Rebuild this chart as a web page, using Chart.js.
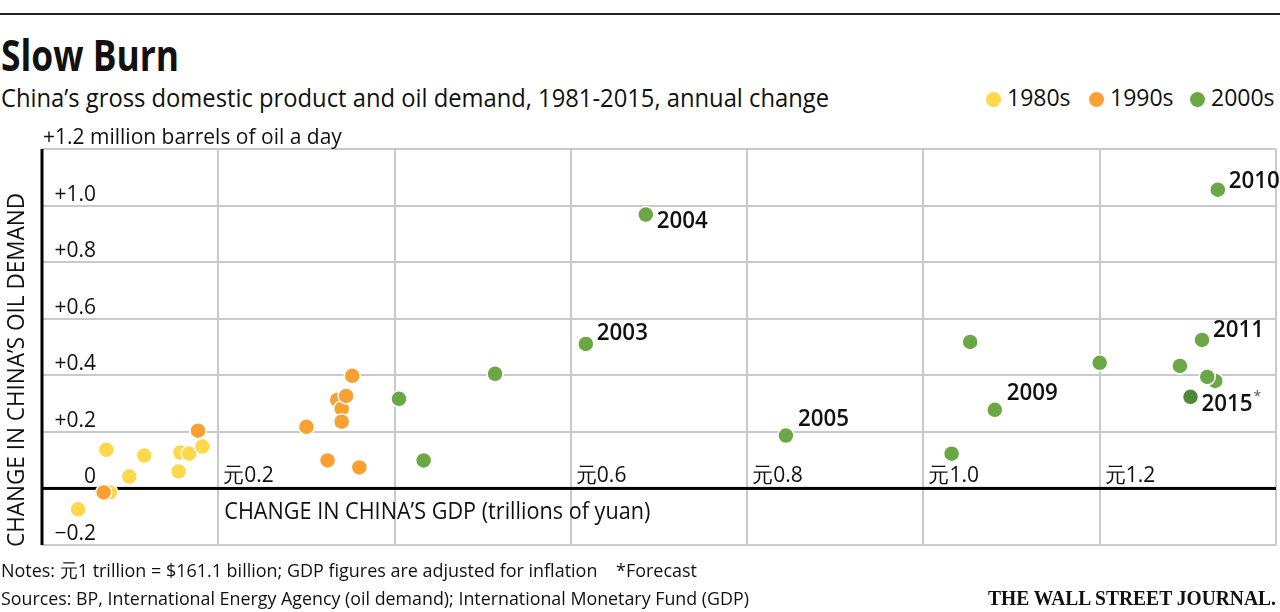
<!DOCTYPE html>
<html>
<head>
<meta charset="utf-8">
<script src="https://cdn.jsdelivr.net/npm/chart.js@4.4.1/dist/chart.umd.min.js"></script>
<style>
  html, body { margin:0; padding:0; background:#fff; }
  body { width:1280px; height:612px; position:relative; overflow:hidden;
         font-family:"Open Sans",sans-serif; color:#111; }
  #rule { position:absolute; left:0; top:13px; width:1280px; height:2px; background:#222; }
  .t { position:absolute; white-space:nowrap; line-height:1; transform-origin:0 0; }
  #title { left:1px; top:33px; font-size:43px; font-weight:bold; }
  #sub { left:1px; top:84px; font-size:26px; }
  .leg { position:absolute; top:86px; font-size:23px; white-space:nowrap; line-height:1; }
  .dot { display:inline-block; width:15px; height:15px; border-radius:50%; vertical-align:-1px; margin-right:6px; }
  #notes { left:1px; top:561px; font-size:19px; }
  #src { left:1px; top:589px; font-size:19px; }
  #wsj { left:988px; top:588px; font-size:21px; font-weight:bold; font-family:"Liberation Serif","DejaVu Serif",serif; }
  canvas { position:absolute; left:0; top:0; }
</style>
</head>
<body>
<div id="rule"></div>
<div class="t" id="title" data-w="178">Slow Burn</div>
<div class="t" id="sub" data-w="828">China’s gross domestic product and oil demand, 1981-2015, annual change</div>
<div class="leg" style="left:986px"><span class="dot" style="background:#FDD84B"></span>1980s</div>
<div class="leg" style="left:1089px"><span class="dot" style="background:#F9A033"></span>1990s</div>
<div class="leg" style="left:1190px"><span class="dot" style="background:#6BA745"></span>2000s</div>
<canvas id="c" width="1280" height="612"></canvas>
<div class="t" id="notes" data-w="696">Notes: 元1 trillion = $161.1 billion; GDP figures are adjusted for inflation&nbsp;&nbsp;&nbsp;&nbsp;*Forecast</div>
<div class="t" id="src" data-w="748">Sources: BP, International Energy Agency (oil demand); International Monetary Fund (GDP)</div>
<div class="t" id="wsj" data-w="288">THE WALL STREET JOURNAL.</div>
<script>
// ---- data (x: change in GDP, trillions of yuan; y: change in oil demand, million barrels/day)
const gdp1980s  = [0.041, 0.077, 0.073, 0.099, 0.116, 0.155, 0.157, 0.167, 0.182];
const oil1980s  = [-0.074, -0.014, 0.137, 0.042, 0.116, 0.060, 0.127, 0.123, 0.148];

const gdp1990s  = [0.070, 0.177, 0.300, 0.335, 0.340, 0.340, 0.345, 0.352, 0.324, 0.360];
const oil1990s  = [-0.014, 0.204, 0.218, 0.313, 0.282, 0.236, 0.327, 0.398, 0.099, 0.074];

const years2000s = ['2000','2001','2002','2003','2004','2005','2006','2007','2008','2009','2010','2011','2012','2014','2013','2015'];
const gdp2000s  = [0.405, 0.433, 0.514, 0.617, 0.685, 0.844, 1.053, 1.200, 1.032, 1.081, 1.334, 1.316, 1.291, 1.331, 1.322, 1.303];
const oil2000s  = [0.317, 0.099, 0.405, 0.511, 0.968, 0.187, 0.518, 0.444, 0.123, 0.278, 1.056, 0.525, 0.433, 0.380, 0.394, 0.324];
const labeledYears = ['2003','2004','2005','2009','2010','2011','2015'];
const forecastYear = '2015';

const yTickValues = [-0.2, 0, 0.2, 0.4, 0.6, 0.8, 1.0, 1.2];
const yTickLabels = ['−0.2', '0', '+0.2', '+0.4', '+0.6', '+0.8', '+1.0', '+1.2 million barrels of oil a day'];
const xTickValues = [0.2, 0.6, 0.8, 1.0, 1.2];
const xTickLabels = ['元0.2', '元0.6', '元0.8', '元1.0', '元1.2'];
const xTitle = 'CHANGE IN CHINA’S GDP (trillions of yuan)';
const yTitle = 'CHANGE IN CHINA’S OIL DEMAND';

const FONT = '"Open Sans",sans-serif';
const toPts = (xs, ys) => xs.map((x, i) => ({x: x, y: ys[i]}));

const labelOffsets = { '2003':[11,-11], '2004':[11,7], '2005':[12,-16], '2009':[12,-17],
                       '2010':[11,-9], '2011':[11,-10], '2015':[11,7] };

function fitText(ctx, text, x, y, w) {
  const m = ctx.measureText(text).width;
  ctx.save();
  ctx.translate(x, y);
  ctx.scale(w / m, 1);
  ctx.fillText(text, 0, 0);
  ctx.restore();
}

const decor = {
  id: 'decor',
  beforeDatasetsDraw(chart) {
    const {ctx, chartArea: a, scales: {x, y}} = chart;
    ctx.save();
    ctx.fillStyle = '#000';
    const y0 = y.getPixelForValue(0), x0 = x.getPixelForValue(0);
    ctx.fillRect(a.left, y0 - 1.5, a.right - a.left, 3);
    ctx.fillRect(x0 - 1.5, a.top, 3, a.bottom - a.top);
    ctx.restore();
  },
  afterDraw(chart) {
    const {ctx, chartArea: a, scales: {x, y}} = chart;
    ctx.save();
    ctx.fillStyle = '#111';
    ctx.font = '21px ' + FONT;
    ctx.textBaseline = 'alphabetic';
    yTickValues.forEach((v, i) => {
      const py = y.getPixelForValue(v);
      if (i === yTickValues.length - 1) {
        ctx.textAlign = 'left';
        ctx.fillText(yTickLabels[i], a.left + 1, py - 5);
      } else {
        ctx.textAlign = 'right';
        ctx.fillText(yTickLabels[i], a.left + 54, py - 5);
      }
    });
    ctx.textAlign = 'left';
    const y0 = y.getPixelForValue(0);
    xTickValues.forEach((v, i) => {
      ctx.fillText(xTickLabels[i], x.getPixelForValue(v) + 5, y0 - 6);
    });
    ctx.font = '23px ' + FONT;
    fitText(ctx, xTitle, x.getPixelForValue(0.2) + 6, y0 + 31, 426);
    ctx.save();
    ctx.translate(24, 370);
    ctx.rotate(-Math.PI / 2);
    fitText(ctx, yTitle, -177, 0, 354);
    ctx.restore();
    // year labels
    const meta = chart.getDatasetMeta(0);
    ctx.font = '600 24px ' + FONT;
    years2000s.forEach((yr, i) => {
      if (!labeledYears.includes(yr)) return;
      const el = meta.data[i];
      const off = labelOffsets[yr];
      ctx.textAlign = 'left';
      ctx.textBaseline = 'middle';
      ctx.fillStyle = '#111';
      const w = ctx.measureText(yr).width * 0.93;
      fitText(ctx, yr, el.x + off[0], el.y + off[1], w);
      if (yr === forecastYear) {
        ctx.save();
        ctx.font = '14px ' + FONT;
        ctx.fillStyle = '#555';
        ctx.fillText('*', el.x + off[0] + w + 1, el.y + off[1] - 7);
        ctx.restore();
      }
    });
    ctx.restore();
  }
};

const gridColor = '#c9c9c9';
new Chart(document.getElementById('c'), {
  type: 'scatter',
  data: {
    datasets: [
      { label: '2000s', data: toPts(gdp2000s, oil2000s),
        pointBackgroundColor: years2000s.map(y => y === forecastYear ? '#4E8A35' : '#6BA745') },
      { label: '1990s', data: toPts(gdp1990s, oil1990s), pointBackgroundColor: '#F9A033' },
      { label: '1980s', data: toPts(gdp1980s, oil1980s), pointBackgroundColor: '#FDD84B' }
    ]
  },
  options: {
    responsive: false,
    animation: false,
    devicePixelRatio: 1,
    layout: { autoPadding: false, padding: { left: 42, top: 149, right: 4, bottom: 67 } },
    elements: { point: { radius: 8, hoverRadius: 8, borderColor: '#fff', borderWidth: 1.5 } },
    plugins: { legend: { display: false }, tooltip: { enabled: false } },
    scales: {
      x: { type: 'linear', min: 0, max: 1.4,
           ticks: { display: false, stepSize: 0.2 },
           grid: { color: gridColor, lineWidth: 2, drawTicks: false },
           border: { display: false } },
      y: { type: 'linear', min: -0.2, max: 1.2,
           ticks: { display: false, stepSize: 0.2 },
           grid: { color: gridColor, lineWidth: 2, drawTicks: false },
           border: { display: false } }
    }
  },
  plugins: [decor]
});

document.querySelectorAll('.t[data-w]').forEach(el => {
  const w = el.getBoundingClientRect().width;
  el.style.transform = 'scaleX(' + (parseFloat(el.dataset.w) / w) + ')';
});
</script>
</body>
</html>
